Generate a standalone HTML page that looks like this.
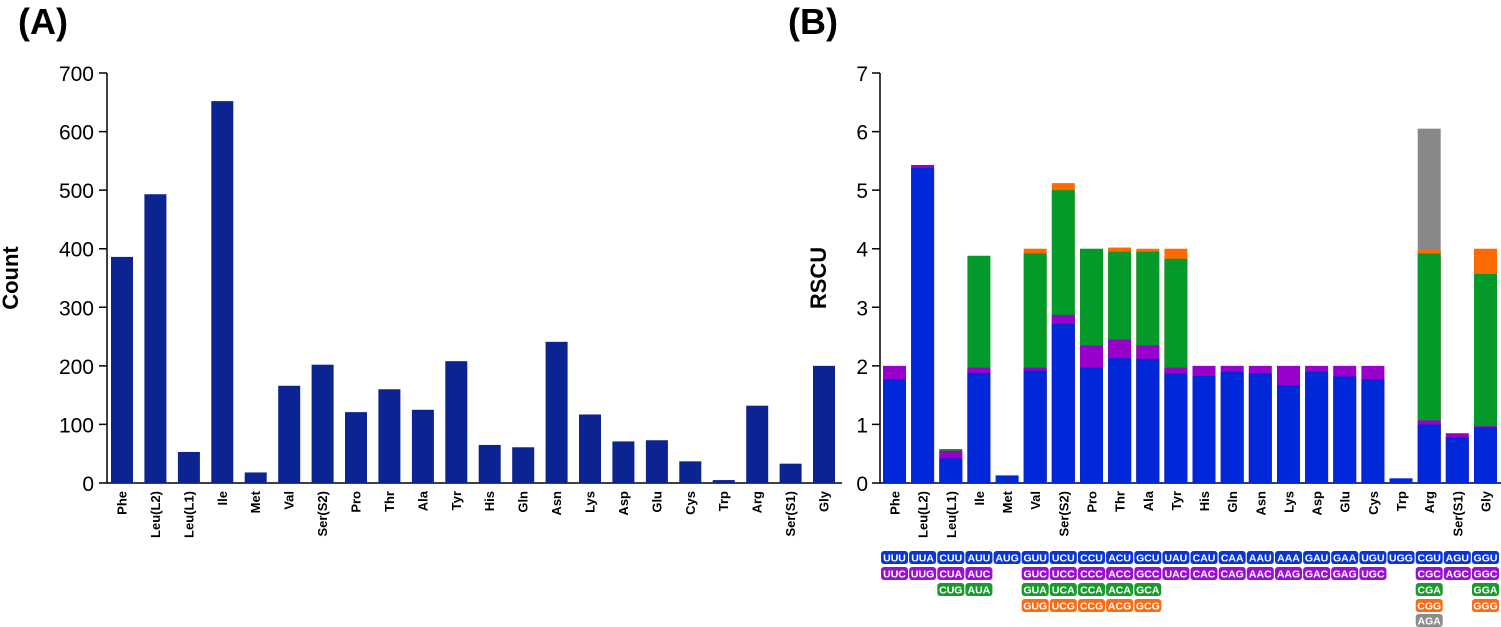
<!DOCTYPE html>
<html><head><meta charset="utf-8"><style>
body{margin:0;background:#fff}
svg{display:block;font-family:"Liberation Sans",Arial,sans-serif}
.cl{font-size:13px;font-weight:bold;fill:#000}
.tk{font-size:21px;fill:#000}
.cb text{font-size:10.5px;font-weight:bold;fill:#fff;text-anchor:middle}
</style></head><body>
<svg width="1501" height="627" viewBox="0 0 1501 627">
<text x="18" y="34" font-size="36" font-weight="bold">(A)</text>
<text x="788" y="34" font-size="36" font-weight="bold">(B)</text>
<g stroke="#000" stroke-width="1.5" fill="none">
<path d="M107 73 V483 H842"/>
<path d="M99 73H107M99 131.6H107M99 190.1H107M99 248.7H107M99 307.3H107M99 365.9H107M99 424.4H107M99 483H107"/>
</g>
<g class="tk" text-anchor="end">
<text x="94" y="81">700</text><text x="94" y="139.6">600</text><text x="94" y="198.1">500</text><text x="94" y="256.7">400</text><text x="94" y="315.3">300</text><text x="94" y="373.9">200</text><text x="94" y="432.4">100</text><text x="94" y="491">0</text>
</g>
<text transform="translate(18,278) rotate(-90)" text-anchor="middle" font-size="22" font-weight="bold">Count</text>
<g fill="#0c2392" transform="translate(0,483) scale(1,-0.5857)">
<rect x="111" y="0" width="22" height="386"/>
<rect x="144.4" y="0" width="22" height="493"/>
<rect x="177.9" y="0" width="22" height="53"/>
<rect x="211.3" y="0" width="22" height="652"/>
<rect x="244.7" y="0" width="22" height="18"/>
<rect x="278.2" y="0" width="22" height="166"/>
<rect x="311.6" y="0" width="22" height="202"/>
<rect x="345" y="0" width="22" height="121"/>
<rect x="378.4" y="0" width="22" height="160"/>
<rect x="411.9" y="0" width="22" height="125"/>
<rect x="445.3" y="0" width="22" height="208"/>
<rect x="478.7" y="0" width="22" height="65"/>
<rect x="512.2" y="0" width="22" height="61"/>
<rect x="545.6" y="0" width="22" height="241"/>
<rect x="579" y="0" width="22" height="117"/>
<rect x="612.4" y="0" width="22" height="71"/>
<rect x="645.9" y="0" width="22" height="73"/>
<rect x="679.3" y="0" width="22" height="37"/>
<rect x="712.7" y="0" width="22" height="5"/>
<rect x="746.2" y="0" width="22" height="132"/>
<rect x="779.6" y="0" width="22" height="33"/>
<rect x="813" y="0" width="22" height="200"/>
</g>
<g class="cl" text-anchor="end">
<text transform="translate(126.5,491) rotate(-90)">Phe</text>
<text transform="translate(159.9,491) rotate(-90)">Leu(L2)</text>
<text transform="translate(193.4,491) rotate(-90)">Leu(L1)</text>
<text transform="translate(226.8,491) rotate(-90)">Ile</text>
<text transform="translate(260.2,491) rotate(-90)">Met</text>
<text transform="translate(293.7,491) rotate(-90)">Val</text>
<text transform="translate(327.1,491) rotate(-90)">Ser(S2)</text>
<text transform="translate(360.5,491) rotate(-90)">Pro</text>
<text transform="translate(393.9,491) rotate(-90)">Thr</text>
<text transform="translate(427.4,491) rotate(-90)">Ala</text>
<text transform="translate(460.8,491) rotate(-90)">Tyr</text>
<text transform="translate(494.2,491) rotate(-90)">His</text>
<text transform="translate(527.7,491) rotate(-90)">Gln</text>
<text transform="translate(561.1,491) rotate(-90)">Asn</text>
<text transform="translate(594.5,491) rotate(-90)">Lys</text>
<text transform="translate(627.9,491) rotate(-90)">Asp</text>
<text transform="translate(661.4,491) rotate(-90)">Glu</text>
<text transform="translate(694.8,491) rotate(-90)">Cys</text>
<text transform="translate(728.2,491) rotate(-90)">Trp</text>
<text transform="translate(761.7,491) rotate(-90)">Arg</text>
<text transform="translate(795.1,491) rotate(-90)">Ser(S1)</text>
<text transform="translate(828.5,491) rotate(-90)">Gly</text>
</g>
<g stroke="#000" stroke-width="1.5" fill="none">
<path d="M880 73 V483 H1501"/>
<path d="M872 73H880M872 131.6H880M872 190.1H880M872 248.7H880M872 307.3H880M872 365.9H880M872 424.4H880M872 483H880"/>
</g>
<g class="tk" text-anchor="end">
<text x="868" y="81">7</text><text x="868" y="139.6">6</text><text x="868" y="198.1">5</text><text x="868" y="256.7">4</text><text x="868" y="315.3">3</text><text x="868" y="373.9">2</text><text x="868" y="432.4">1</text><text x="868" y="491">0</text>
</g>
<text transform="translate(826,278) rotate(-90)" text-anchor="middle" font-size="22" font-weight="bold">RSCU</text>
<g transform="translate(0,483) scale(1,-58.57)">
<g fill="#888"><rect x="1417.7" y="0" width="23" height="6.05"/></g>
<g fill="#ff6a00">
<rect x="1023.7" y="0" width="23" height="4.0"/><rect x="1051.8" y="0" width="23" height="5.12"/>
<rect x="1108.1" y="0" width="23" height="4.02"/><rect x="1136.3" y="0" width="23" height="4.0"/>
<rect x="1164.4" y="0" width="23" height="4.0"/><rect x="1417.7" y="0" width="23" height="3.98"/>
<rect x="1474" y="0" width="23" height="4.0"/>
</g>
<g fill="#049a2a">
<rect x="939.3" y="0" width="23" height="0.58"/><rect x="967.4" y="0" width="23" height="3.88"/>
<rect x="1023.7" y="0" width="23" height="3.92"/><rect x="1051.8" y="0" width="23" height="5.0"/>
<rect x="1080" y="0" width="23" height="4.0"/><rect x="1108.1" y="0" width="23" height="3.95"/>
<rect x="1136.3" y="0" width="23" height="3.95"/><rect x="1164.4" y="0" width="23" height="3.83"/>
<rect x="1417.7" y="0" width="23" height="3.92"/><rect x="1474" y="0" width="23" height="3.57"/>
</g>
<g fill="#9900cc">
<rect x="883" y="0" width="23" height="2.0"/><rect x="911.1" y="0" width="23" height="5.43"/>
<rect x="939.3" y="0" width="23" height="0.55"/><rect x="967.4" y="0" width="23" height="1.97"/>
<rect x="1023.7" y="0" width="23" height="1.97"/><rect x="1051.8" y="0" width="23" height="2.87"/>
<rect x="1080" y="0" width="23" height="2.35"/><rect x="1108.1" y="0" width="23" height="2.45"/>
<rect x="1136.3" y="0" width="23" height="2.35"/><rect x="1164.4" y="0" width="23" height="1.97"/>
<rect x="1192.5" y="0" width="23" height="2.0"/><rect x="1220.7" y="0" width="23" height="2.0"/>
<rect x="1248.8" y="0" width="23" height="2.0"/><rect x="1277" y="0" width="23" height="2.0"/>
<rect x="1305.1" y="0" width="23" height="2.0"/><rect x="1333.2" y="0" width="23" height="2.0"/>
<rect x="1361.4" y="0" width="23" height="2.0"/><rect x="1417.7" y="0" width="23" height="1.07"/>
<rect x="1445.8" y="0" width="23" height="0.85"/><rect x="1474" y="0" width="23" height="0.97"/>
</g>
<g fill="#0028d8">
<rect x="883" y="0" width="23" height="1.77"/><rect x="911.1" y="0" width="23" height="5.38"/>
<rect x="939.3" y="0" width="23" height="0.42"/><rect x="967.4" y="0" width="23" height="1.88"/>
<rect x="995.6" y="0" width="23" height="0.13"/><rect x="1023.7" y="0" width="23" height="1.92"/>
<rect x="1051.8" y="0" width="23" height="2.72"/><rect x="1080" y="0" width="23" height="1.97"/>
<rect x="1108.1" y="0" width="23" height="2.13"/><rect x="1136.3" y="0" width="23" height="2.12"/>
<rect x="1164.4" y="0" width="23" height="1.87"/><rect x="1192.5" y="0" width="23" height="1.83"/>
<rect x="1220.7" y="0" width="23" height="1.9"/><rect x="1248.8" y="0" width="23" height="1.87"/>
<rect x="1277" y="0" width="23" height="1.67"/><rect x="1305.1" y="0" width="23" height="1.9"/>
<rect x="1333.2" y="0" width="23" height="1.82"/><rect x="1361.4" y="0" width="23" height="1.77"/>
<rect x="1389.5" y="0" width="23" height="0.08"/><rect x="1417.7" y="0" width="23" height="1.0"/>
<rect x="1445.8" y="0" width="23" height="0.78"/><rect x="1474" y="0" width="23" height="0.95"/>
</g>
</g>
<g class="cl" text-anchor="end">
<text transform="translate(899.5,491) rotate(-90)">Phe</text>
<text transform="translate(927.6,491) rotate(-90)">Leu(L2)</text>
<text transform="translate(955.8,491) rotate(-90)">Leu(L1)</text>
<text transform="translate(983.9,491) rotate(-90)">Ile</text>
<text transform="translate(1012.1,491) rotate(-90)">Met</text>
<text transform="translate(1040.2,491) rotate(-90)">Val</text>
<text transform="translate(1068.3,491) rotate(-90)">Ser(S2)</text>
<text transform="translate(1096.5,491) rotate(-90)">Pro</text>
<text transform="translate(1124.6,491) rotate(-90)">Thr</text>
<text transform="translate(1152.8,491) rotate(-90)">Ala</text>
<text transform="translate(1180.9,491) rotate(-90)">Tyr</text>
<text transform="translate(1209,491) rotate(-90)">His</text>
<text transform="translate(1237.2,491) rotate(-90)">Gln</text>
<text transform="translate(1265.3,491) rotate(-90)">Asn</text>
<text transform="translate(1293.5,491) rotate(-90)">Lys</text>
<text transform="translate(1321.6,491) rotate(-90)">Asp</text>
<text transform="translate(1349.7,491) rotate(-90)">Glu</text>
<text transform="translate(1377.9,491) rotate(-90)">Cys</text>
<text transform="translate(1406,491) rotate(-90)">Trp</text>
<text transform="translate(1434.2,491) rotate(-90)">Arg</text>
<text transform="translate(1462.3,491) rotate(-90)">Ser(S1)</text>
<text transform="translate(1490.5,491) rotate(-90)">Gly</text>
</g>
<g class="cb">
<g fill="#0a35d6">
<rect x="881" y="551" width="27" height="13" rx="3"/><rect x="909.1" y="551" width="27" height="13" rx="3"/><rect x="937.3" y="551" width="27" height="13" rx="3"/><rect x="965.4" y="551" width="27" height="13" rx="3"/><rect x="993.6" y="551" width="27" height="13" rx="3"/><rect x="1021.7" y="551" width="27" height="13" rx="3"/><rect x="1049.8" y="551" width="27" height="13" rx="3"/><rect x="1078" y="551" width="27" height="13" rx="3"/><rect x="1106.1" y="551" width="27" height="13" rx="3"/><rect x="1134.3" y="551" width="27" height="13" rx="3"/><rect x="1162.4" y="551" width="27" height="13" rx="3"/><rect x="1190.5" y="551" width="27" height="13" rx="3"/><rect x="1218.7" y="551" width="27" height="13" rx="3"/><rect x="1246.8" y="551" width="27" height="13" rx="3"/><rect x="1275" y="551" width="27" height="13" rx="3"/><rect x="1303.1" y="551" width="27" height="13" rx="3"/><rect x="1331.2" y="551" width="27" height="13" rx="3"/><rect x="1359.4" y="551" width="27" height="13" rx="3"/><rect x="1387.5" y="551" width="27" height="13" rx="3"/><rect x="1415.7" y="551" width="27" height="13" rx="3"/><rect x="1443.8" y="551" width="27" height="13" rx="3"/><rect x="1472" y="551" width="27" height="13" rx="3"/>
</g>
<g fill="#9a10d0">
<rect x="881" y="567" width="27" height="13" rx="3"/><rect x="909.1" y="567" width="27" height="13" rx="3"/><rect x="937.3" y="567" width="27" height="13" rx="3"/><rect x="965.4" y="567" width="27" height="13" rx="3"/><rect x="1021.7" y="567" width="27" height="13" rx="3"/><rect x="1049.8" y="567" width="27" height="13" rx="3"/><rect x="1078" y="567" width="27" height="13" rx="3"/><rect x="1106.1" y="567" width="27" height="13" rx="3"/><rect x="1134.3" y="567" width="27" height="13" rx="3"/><rect x="1162.4" y="567" width="27" height="13" rx="3"/><rect x="1190.5" y="567" width="27" height="13" rx="3"/><rect x="1218.7" y="567" width="27" height="13" rx="3"/><rect x="1246.8" y="567" width="27" height="13" rx="3"/><rect x="1275" y="567" width="27" height="13" rx="3"/><rect x="1303.1" y="567" width="27" height="13" rx="3"/><rect x="1331.2" y="567" width="27" height="13" rx="3"/><rect x="1359.4" y="567" width="27" height="13" rx="3"/><rect x="1415.7" y="567" width="27" height="13" rx="3"/><rect x="1443.8" y="567" width="27" height="13" rx="3"/><rect x="1472" y="567" width="27" height="13" rx="3"/>
</g>
<g fill="#1a9a2e">
<rect x="937.3" y="583" width="27" height="13" rx="3"/><rect x="965.4" y="583" width="27" height="13" rx="3"/><rect x="1021.7" y="583" width="27" height="13" rx="3"/><rect x="1049.8" y="583" width="27" height="13" rx="3"/><rect x="1078" y="583" width="27" height="13" rx="3"/><rect x="1106.1" y="583" width="27" height="13" rx="3"/><rect x="1134.3" y="583" width="27" height="13" rx="3"/><rect x="1415.7" y="583" width="27" height="13" rx="3"/><rect x="1472" y="583" width="27" height="13" rx="3"/>
</g>
<g fill="#ff6a10">
<rect x="1021.7" y="599" width="27" height="13" rx="3"/><rect x="1049.8" y="599" width="27" height="13" rx="3"/><rect x="1078" y="599" width="27" height="13" rx="3"/><rect x="1106.1" y="599" width="27" height="13" rx="3"/><rect x="1134.3" y="599" width="27" height="13" rx="3"/><rect x="1415.7" y="599" width="27" height="13" rx="3"/><rect x="1472" y="599" width="27" height="13" rx="3"/>
</g>
<rect fill="#8c8c8c" x="1415.7" y="614" width="27" height="13" rx="3"/>
<text x="894.5" y="561.5">UUU</text><text x="922.6" y="561.5">UUA</text><text x="950.8" y="561.5">CUU</text><text x="978.9" y="561.5">AUU</text><text x="1007.1" y="561.5">AUG</text><text x="1035.2" y="561.5">GUU</text><text x="1063.3" y="561.5">UCU</text><text x="1091.5" y="561.5">CCU</text><text x="1119.6" y="561.5">ACU</text><text x="1147.8" y="561.5">GCU</text><text x="1175.9" y="561.5">UAU</text><text x="1204" y="561.5">CAU</text><text x="1232.2" y="561.5">CAA</text><text x="1260.3" y="561.5">AAU</text><text x="1288.5" y="561.5">AAA</text><text x="1316.6" y="561.5">GAU</text><text x="1344.7" y="561.5">GAA</text><text x="1372.9" y="561.5">UGU</text><text x="1401" y="561.5">UGG</text><text x="1429.2" y="561.5">CGU</text><text x="1457.3" y="561.5">AGU</text><text x="1485.5" y="561.5">GGU</text>
<text x="894.5" y="577.5">UUC</text><text x="922.6" y="577.5">UUG</text><text x="950.8" y="577.5">CUA</text><text x="978.9" y="577.5">AUC</text><text x="1035.2" y="577.5">GUC</text><text x="1063.3" y="577.5">UCC</text><text x="1091.5" y="577.5">CCC</text><text x="1119.6" y="577.5">ACC</text><text x="1147.8" y="577.5">GCC</text><text x="1175.9" y="577.5">UAC</text><text x="1204" y="577.5">CAC</text><text x="1232.2" y="577.5">CAG</text><text x="1260.3" y="577.5">AAC</text><text x="1288.5" y="577.5">AAG</text><text x="1316.6" y="577.5">GAC</text><text x="1344.7" y="577.5">GAG</text><text x="1372.9" y="577.5">UGC</text><text x="1429.2" y="577.5">CGC</text><text x="1457.3" y="577.5">AGC</text><text x="1485.5" y="577.5">GGC</text>
<text x="950.8" y="593.5">CUG</text><text x="978.9" y="593.5">AUA</text><text x="1035.2" y="593.5">GUA</text><text x="1063.3" y="593.5">UCA</text><text x="1091.5" y="593.5">CCA</text><text x="1119.6" y="593.5">ACA</text><text x="1147.8" y="593.5">GCA</text><text x="1429.2" y="593.5">CGA</text><text x="1485.5" y="593.5">GGA</text>
<text x="1035.2" y="609.5">GUG</text><text x="1063.3" y="609.5">UCG</text><text x="1091.5" y="609.5">CCG</text><text x="1119.6" y="609.5">ACG</text><text x="1147.8" y="609.5">GCG</text><text x="1429.2" y="609.5">CGG</text><text x="1485.5" y="609.5">GGG</text>
<text x="1429.2" y="624.5">AGA</text>
</g>
</svg>
</body></html>
